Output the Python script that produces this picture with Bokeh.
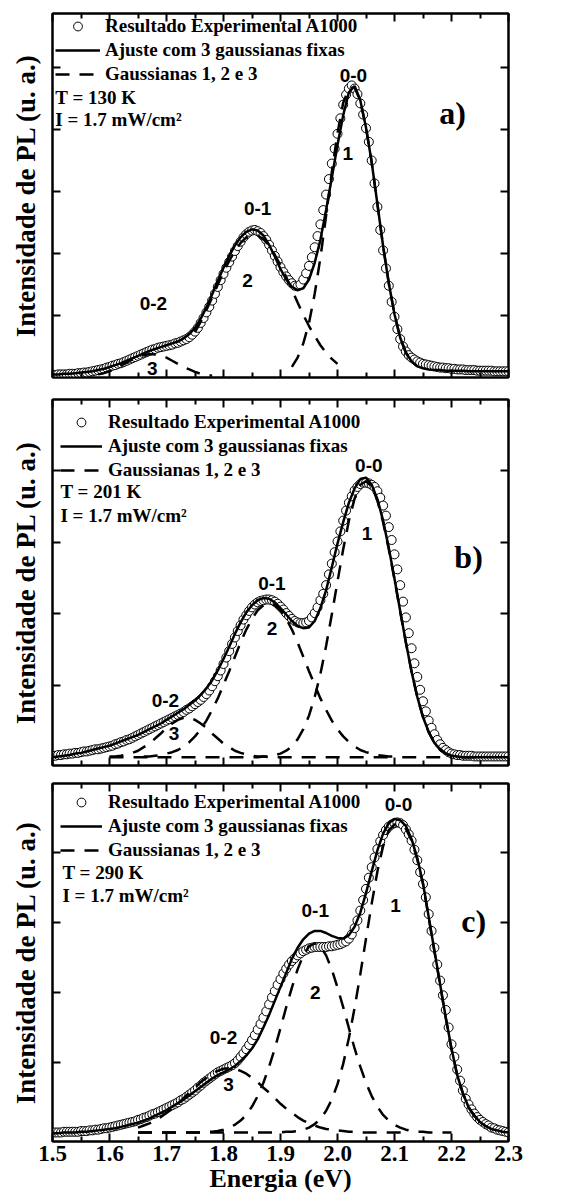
from bokeh.plotting import figure
from bokeh.models import Range1d, LinearAxis, FixedTicker, PrintfTickFormatter, Label, Legend, LegendItem
from bokeh.layouts import column
from bokeh.embed import file_html
from bokeh.resources import INLINE
from bokeh.core.properties import value

SERIF = "Liberation Serif"
SANS = "Liberation Sans"

# ---------------- data ----------------
energy = [1.500, 1.505, 1.510, 1.515, 1.520, 1.525, 1.530, 1.535, 1.540, 1.545,
          1.550, 1.555, 1.560, 1.565, 1.570, 1.575, 1.580, 1.585, 1.590, 1.595,
          1.600, 1.605, 1.610, 1.615, 1.620, 1.625, 1.630, 1.635, 1.640, 1.645,
          1.650, 1.655, 1.660, 1.665, 1.670, 1.675, 1.680, 1.685, 1.690, 1.695,
          1.700, 1.705, 1.710, 1.715, 1.720, 1.725, 1.730, 1.735, 1.740, 1.745,
          1.750, 1.755, 1.760, 1.765, 1.770, 1.775, 1.780, 1.785, 1.790, 1.795,
          1.800, 1.805, 1.810, 1.815, 1.820, 1.825, 1.830, 1.835, 1.840, 1.845,
          1.850, 1.855, 1.860, 1.865, 1.870, 1.875, 1.880, 1.885, 1.890, 1.895,
          1.900, 1.905, 1.910, 1.915, 1.920, 1.925, 1.930, 1.935, 1.940, 1.945,
          1.950, 1.955, 1.960, 1.965, 1.970, 1.975, 1.980, 1.985, 1.990, 1.995,
          2.000, 2.005, 2.010, 2.015, 2.020, 2.025, 2.030, 2.035, 2.040, 2.045,
          2.050, 2.055, 2.060, 2.065, 2.070, 2.075, 2.080, 2.085, 2.090, 2.095,
          2.100, 2.105, 2.110, 2.115, 2.120, 2.125, 2.130, 2.135, 2.140, 2.145,
          2.150, 2.155, 2.160, 2.165, 2.170, 2.175, 2.180, 2.185, 2.190, 2.195,
          2.200, 2.205, 2.210, 2.215, 2.220, 2.225, 2.230, 2.235, 2.240, 2.245,
          2.250, 2.255, 2.260, 2.265, 2.270, 2.275, 2.280, 2.285, 2.290, 2.295,
          2.300]

energy_fit = [1.50, 1.51, 1.52, 1.53, 1.54, 1.55, 1.56, 1.57, 1.58, 1.59,
              1.60, 1.61, 1.62, 1.63, 1.64, 1.65, 1.66, 1.67, 1.68, 1.69,
              1.70, 1.71, 1.72, 1.73, 1.74, 1.75, 1.76, 1.77, 1.78, 1.79,
              1.80, 1.81, 1.82, 1.83, 1.84, 1.85, 1.86, 1.87, 1.88, 1.89,
              1.90, 1.91, 1.92, 1.93, 1.94, 1.95, 1.96, 1.97, 1.98, 1.99,
              2.00, 2.01, 2.02, 2.03, 2.04, 2.05, 2.06, 2.07, 2.08, 2.09,
              2.10, 2.11, 2.12, 2.13, 2.14, 2.15, 2.16, 2.17, 2.18, 2.19,
              2.20, 2.21, 2.22, 2.23, 2.24, 2.25, 2.26, 2.27, 2.28, 2.29,
              2.30]

# panel a) T = 130 K
a_exp = [0.04, 0.04, 0.05, 0.05, 0.05, 0.05, 0.06, 0.06, 0.06, 0.07,
         0.07, 0.08, 0.08, 0.09, 0.10, 0.11, 0.12, 0.13, 0.14, 0.16,
         0.17, 0.19, 0.20, 0.22, 0.23, 0.25, 0.27, 0.29, 0.31, 0.33,
         0.35, 0.37, 0.39, 0.41, 0.43, 0.45, 0.46, 0.48, 0.49, 0.50,
         0.51, 0.52, 0.53, 0.55, 0.56, 0.58, 0.60, 0.62, 0.65, 0.69,
         0.74, 0.80, 0.88, 0.96, 1.05, 1.14, 1.24, 1.35, 1.46, 1.57,
         1.67, 1.77, 1.86, 1.95, 2.04, 2.12, 2.19, 2.26, 2.31, 2.35,
         2.37, 2.38, 2.36, 2.33, 2.28, 2.22, 2.14, 2.05, 1.96, 1.87,
         1.78, 1.70, 1.63, 1.57, 1.52, 1.48, 1.47, 1.50, 1.58, 1.68,
         1.80, 1.94, 2.10, 2.28, 2.47, 2.70, 2.95, 3.20, 3.45, 3.69,
         3.93, 4.18, 4.40, 4.56, 4.66, 4.71, 4.66, 4.57, 4.42, 4.24,
         4.02, 3.80, 3.50, 3.13, 2.75, 2.38, 2.05, 1.76, 1.48, 1.22,
         0.98, 0.78, 0.62, 0.50, 0.42, 0.36, 0.32, 0.29, 0.26, 0.24,
         0.22, 0.21, 0.20, 0.19, 0.18, 0.17, 0.16, 0.16, 0.15, 0.15,
         0.14, 0.14, 0.13, 0.13, 0.13, 0.12, 0.12, 0.12, 0.12, 0.11,
         0.11, 0.11, 0.11, 0.11, 0.11, 0.10, 0.10, 0.10, 0.10, 0.10,
         0.10]
a_fit = [0.05, 0.05, 0.06, 0.06, 0.07, 0.08, 0.09, 0.10, 0.12, 0.14,
         0.17, 0.20, 0.23, 0.27, 0.31, 0.35, 0.39, 0.43, 0.46, 0.49,
         0.52, 0.55, 0.58, 0.63, 0.70, 0.80, 0.95, 1.13, 1.34, 1.56,
         1.77, 1.96, 2.13, 2.26, 2.35, 2.39, 2.37, 2.29, 2.14, 1.95,
         1.75, 1.58, 1.46, 1.41, 1.44, 1.58, 1.85, 2.22, 2.70, 3.22,
         3.75, 4.23, 4.60, 4.70, 4.47, 4.03, 3.47, 2.80, 2.12, 1.52,
         1.02, 0.64, 0.40, 0.26, 0.18, 0.15, 0.13, 0.12, 0.12, 0.11,
         0.11, 0.11, 0.11, 0.10, 0.10, 0.10, 0.10, 0.10, 0.10, 0.10,
         0.10]
a_g3 = [0.05, 0.07, 0.10, 0.14, 0.19, 0.24, 0.29, 0.33, 0.36, 0.38,
        0.37, 0.35, 0.32, 0.27, 0.22, 0.17, 0.13, 0.09, 0.06, 0.04, 0.03]
a_g2 = [0.73, 0.90, 1.09, 1.29, 1.50, 1.70, 1.88, 2.04, 2.17, 2.26,
        2.30, 2.29, 2.23, 2.13, 1.98, 1.81, 1.62, 1.42, 1.21, 1.01,
        0.83, 0.67, 0.52, 0.40, 0.30, 0.22]
a_g1 = [0.17, 0.32, 0.55, 0.88, 1.35, 1.93, 2.61, 3.31, 3.94, 4.43,
        4.66, 4.68, 4.46, 4.03, 3.47, 2.80, 2.12, 1.52, 1.02, 0.64,
        0.40, 0.26, 0.18]

# panel b) T = 201 K
b_exp = [0.02, 0.02, 0.03, 0.03, 0.04, 0.04, 0.05, 0.05, 0.06, 0.06,
         0.07, 0.08, 0.08, 0.09, 0.10, 0.11, 0.11, 0.12, 0.13, 0.14,
         0.15, 0.16, 0.18, 0.19, 0.21, 0.22, 0.24, 0.25, 0.27, 0.29,
         0.31, 0.33, 0.35, 0.37, 0.39, 0.41, 0.43, 0.45, 0.47, 0.49,
         0.51, 0.53, 0.55, 0.57, 0.59, 0.61, 0.63, 0.66, 0.68, 0.71,
         0.74, 0.77, 0.80, 0.84, 0.88, 0.93, 0.99, 1.06, 1.13, 1.21,
         1.30, 1.39, 1.48, 1.58, 1.67, 1.76, 1.84, 1.92, 1.98, 2.04,
         2.09, 2.13, 2.16, 2.18, 2.19, 2.20, 2.20, 2.19, 2.17, 2.14,
         2.10, 2.06, 2.01, 1.97, 1.93, 1.90, 1.88, 1.87, 1.87, 1.88,
         1.90, 1.95, 2.01, 2.09, 2.19, 2.28, 2.40, 2.55, 2.70, 2.86,
         3.01, 3.15, 3.30, 3.44, 3.55, 3.64, 3.72, 3.77, 3.81, 3.83,
         3.83, 3.82, 3.80, 3.77, 3.71, 3.62, 3.51, 3.37, 3.21, 3.03,
         2.83, 2.62, 2.40, 2.17, 1.95, 1.73, 1.52, 1.31, 1.12, 0.94,
         0.78, 0.64, 0.51, 0.41, 0.32, 0.24, 0.18, 0.13, 0.10, 0.07,
         0.05, 0.04, 0.03, 0.03, 0.02, 0.02, 0.02, 0.02, 0.01, 0.01,
         0.01, 0.01, 0.01, 0.01, 0.01, 0.01, 0.01, 0.01, 0.01, 0.01,
         0.01]
b_fit = [0.00, 0.01, 0.02, 0.03, 0.05, 0.06, 0.08, 0.10, 0.12, 0.14,
         0.16, 0.19, 0.22, 0.25, 0.28, 0.31, 0.35, 0.39, 0.43, 0.47,
         0.52, 0.57, 0.62, 0.67, 0.73, 0.79, 0.87, 0.96, 1.07, 1.21,
         1.37, 1.54, 1.72, 1.88, 2.02, 2.12, 2.19, 2.22, 2.21, 2.16,
         2.08, 1.99, 1.90, 1.83, 1.80, 1.81, 1.90, 2.08, 2.33, 2.65,
         2.98, 3.28, 3.55, 3.75, 3.88, 3.90, 3.80, 3.60, 3.30, 2.92,
         2.49, 2.04, 1.60, 1.19, 0.84, 0.56, 0.35, 0.20, 0.11, 0.05,
         0.02, 0.01, 0.00, 0.00, 0.00, 0.00, 0.00, 0.00, 0.00, 0.00,
         0.00]
b_g3 = [0.01, 0.01, 0.02, 0.04, 0.06, 0.09, 0.14, 0.19, 0.26, 0.33,
        0.41, 0.47, 0.52, 0.55, 0.55, 0.52, 0.47, 0.41, 0.33, 0.26,
        0.19, 0.14, 0.09, 0.06, 0.04, 0.02, 0.01, 0.01, 0.00, 0.00,
        0.00, 0.00, 0.00, 0.00, 0.00, 0.00, 0.00, 0.00, 0.00, 0.00,
        0.00, 0.00, 0.00, 0.00, 0.00, 0.00, 0.00, 0.00, 0.00, 0.00,
        0.00]
b_g2 = [0.01, 0.01, 0.02, 0.03, 0.05, 0.07, 0.10, 0.15, 0.21, 0.29,
        0.39, 0.51, 0.66, 0.82, 1.01, 1.20, 1.40, 1.60, 1.78, 1.93,
        2.05, 2.12, 2.15, 2.12, 2.05, 1.93, 1.78, 1.60, 1.40, 1.20,
        1.01, 0.82, 0.66, 0.51, 0.39, 0.29, 0.21, 0.15, 0.10, 0.07,
        0.05, 0.03, 0.02, 0.01, 0.01, 0.00, 0.00, 0.00, 0.00, 0.00,
        0.00, 0.00, 0.00, 0.00, 0.00]
b_g1 = [0.00, 0.00, 0.00, 0.00, 0.00, 0.00, 0.00, 0.00, 0.00, 0.00,
        0.00, 0.00, 0.00, 0.00, 0.00, 0.00, 0.00, 0.00, 0.00, 0.00,
        0.00, 0.00, 0.00, 0.00, 0.00, 0.00,
        0.00, 0.01, 0.01, 0.03, 0.05, 0.09, 0.15, 0.25, 0.39, 0.58,
        0.84, 1.16, 1.55, 1.99, 2.45, 2.90, 3.30, 3.61, 3.80, 3.85,
        3.78, 3.58, 3.28, 2.90, 2.48, 2.03, 1.60, 1.19, 0.84, 0.56,
        0.35, 0.20, 0.11, 0.05, 0.02, 0.01, 0.00, 0.00, 0.00, 0.00]

# panel c) T = 290 K
c_exp = [0.00, 0.00, 0.00, 0.00, 0.01, 0.01, 0.01, 0.01, 0.01, 0.01,
         0.02, 0.02, 0.02, 0.03, 0.03, 0.04, 0.04, 0.05, 0.06, 0.06,
         0.07, 0.08, 0.09, 0.10, 0.11, 0.12, 0.13, 0.14, 0.15, 0.16,
         0.18, 0.19, 0.21, 0.22, 0.24, 0.26, 0.27, 0.29, 0.31, 0.33,
         0.35, 0.37, 0.39, 0.41, 0.43, 0.46, 0.48, 0.51, 0.54, 0.57,
         0.60, 0.64, 0.67, 0.71, 0.74, 0.77, 0.80, 0.83, 0.86, 0.88,
         0.90, 0.92, 0.94, 0.96, 0.99, 1.03, 1.08, 1.13, 1.19, 1.25,
         1.32, 1.39, 1.47, 1.55, 1.64, 1.73, 1.83, 1.93, 2.02, 2.11,
         2.19, 2.27, 2.34, 2.40, 2.45, 2.49, 2.53, 2.56, 2.59, 2.61,
         2.63, 2.64, 2.65, 2.65, 2.65, 2.65, 2.65, 2.66, 2.66, 2.67,
         2.68, 2.69, 2.71, 2.73, 2.77, 2.83, 2.92, 3.03, 3.17, 3.32,
         3.48, 3.64, 3.79, 3.93, 4.05, 4.16, 4.25, 4.32, 4.37, 4.40,
         4.42, 4.43, 4.42, 4.39, 4.33, 4.26, 4.17, 4.04, 3.89, 3.72,
         3.55, 3.36, 3.12, 2.88, 2.64, 2.40, 2.17, 1.96, 1.75, 1.50,
         1.26, 1.08, 0.90, 0.74, 0.60, 0.48, 0.40, 0.33, 0.27, 0.22,
         0.18, 0.15, 0.12, 0.10, 0.07, 0.06, 0.04, 0.03, 0.02, 0.01,
         0.00]
c_fit = [-0.01, -0.01, 0.00, 0.00, 0.00, 0.01, 0.01, 0.02, 0.03, 0.04,
         0.05, 0.06, 0.08, 0.10, 0.12, 0.14, 0.17, 0.20, 0.24, 0.28,
         0.32, 0.37, 0.42, 0.47, 0.53, 0.59, 0.65, 0.71, 0.77, 0.82,
         0.86, 0.90, 0.95, 1.02, 1.10, 1.20, 1.33, 1.50, 1.68, 1.88,
         2.08, 2.28, 2.48, 2.64, 2.76, 2.84, 2.88, 2.88, 2.85, 2.81,
         2.78, 2.77, 2.82, 2.94, 3.14, 3.42, 3.73, 4.03, 4.27, 4.42,
         4.48, 4.46, 4.38, 4.19, 3.92, 3.56, 3.08, 2.60, 2.12, 1.64,
         1.20, 0.82, 0.56, 0.36, 0.24, 0.15, 0.09, 0.05, 0.03, 0.01,
         0.00]
c_g3 = [0.07, 0.10, 0.13, 0.17, 0.22, 0.28, 0.34, 0.41, 0.49, 0.57,
        0.64, 0.72, 0.78, 0.84, 0.88, 0.91, 0.92, 0.91, 0.88, 0.84,
        0.78, 0.72, 0.64, 0.57, 0.49, 0.41, 0.34, 0.28, 0.22, 0.17,
        0.13, 0.10, 0.07, 0.05, 0.04, 0.03, 0.02, 0.01, 0.01, 0.00,
        0.00, 0.00, 0.00, 0.00, 0.00, 0.00, 0.00, 0.00]
c_g2 = [0.00, 0.00, 0.00, 0.00, 0.00, 0.00, 0.00, 0.00, 0.00, 0.00,
        0.00, 0.00,
        0.01, 0.01, 0.02, 0.04, 0.07, 0.11, 0.17, 0.25, 0.37, 0.52,
        0.71, 0.94, 1.20, 1.49, 1.79, 2.07, 2.33, 2.53, 2.66, 2.70,
        2.66, 2.53, 2.33, 2.07, 1.79, 1.49, 1.20, 0.94, 0.71, 0.52,
        0.37, 0.25, 0.17, 0.11, 0.07, 0.04, 0.02, 0.01, 0.01, 0.00,
        0.00, 0.00, 0.00, 0.00]
c_g1 = [0.00, 0.00, 0.00, 0.00, 0.00, 0.00, 0.00, 0.00, 0.00, 0.00,
        0.00, 0.00, 0.00, 0.00, 0.00, 0.00, 0.00, 0.00, 0.00, 0.00,
        0.00, 0.00, 0.00, 0.00, 0.00, 0.00,
        0.01, 0.01, 0.02, 0.04, 0.07, 0.12, 0.19, 0.31, 0.47, 0.69,
        0.98, 1.35, 1.78, 2.26, 2.77, 3.27, 3.73, 4.09, 4.32, 4.40,
        4.40, 4.34, 4.17, 3.90, 3.55, 3.07, 2.59, 2.11, 1.63, 1.19,
        0.82, 0.56, 0.36, 0.24, 0.15, 0.09]

# energy windows (slices of energy_fit) over which each gaussian is drawn
a_g_x = [energy_fit[8:29], energy_fit[25:51], energy_fit[42:65]]
b_g_x = [energy_fit[10:61], energy_fit[16:71], energy_fit[10:76]]
c_g_x = [energy_fit[15:63], energy_fit[15:71], energy_fit[15:77]]

x_major = [1.5, 1.6, 1.7, 1.8, 1.9, 2.0, 2.1, 2.2, 2.3]
x_minor = [1.55, 1.65, 1.75, 1.85, 1.95, 2.05, 2.15, 2.25]

legend_labels = ["Resultado Experimental A1000", "Ajuste com 3 gaussianas fixas", "Gaussianas 1, 2 e 3"]
ylabel = "Intensidade de PL (u. a.)"
xlabel = "Energia (eV)"


def style_axis(ax, ticker, show_labels=False):
    ax.ticker = ticker
    ax.axis_line_color = "black"
    ax.axis_line_width = 2
    ax.major_tick_in = 8
    ax.major_tick_out = 0
    ax.minor_tick_in = 5
    ax.minor_tick_out = 0
    ax.major_tick_line_width = 2
    ax.minor_tick_line_width = 2
    ax.major_tick_line_color = "black"
    ax.minor_tick_line_color = "black"
    if not show_labels:
        # tick labels are not drawn at all on these axes
        ax.major_label_text_color = None
        ax.major_label_standoff = 0


def make_panel(height, top, bottom, ylo, yhi, yticks, exp_y, fit_y, gx, gy,
               leg_xy, glyph_w, standoff, notes, tag, t_text, tx, ty, iy, show_x):
    p = figure(width=568, height=height, x_range=Range1d(1.5, 2.3), y_range=Range1d(ylo, yhi),
               output_backend="svg", toolbar_location=None,
               min_border_left=52, min_border_right=60, min_border_top=top, min_border_bottom=bottom)
    p.xgrid.visible = False
    p.ygrid.visible = False
    p.outline_line_color = "black"
    p.outline_line_width = 2
    p.background_fill_color = "white"
    p.border_fill_color = "white"

    xt = FixedTicker(ticks=x_major, minor_ticks=x_minor)
    yt = FixedTicker(ticks=yticks, minor_ticks=[])

    bx = p.xaxis[0]
    style_axis(bx, xt, show_labels=show_x)
    if show_x:
        bx.formatter = PrintfTickFormatter(format="%.1f")
        bx.major_label_text_font = SERIF
        bx.major_label_text_font_style = "bold"
        bx.major_label_text_font_size = "23px"
        bx.major_label_text_color = "black"
        bx.major_label_standoff = 4
        bx.axis_label = xlabel
        bx.axis_label_text_font = SERIF
        bx.axis_label_text_font_style = "bold"
        bx.axis_label_text_font_size = "26px"
        bx.axis_label_text_color = "black"
        bx.axis_label_standoff = 0

    ly = p.yaxis[0]
    style_axis(ly, yt)
    ly.axis_label = ylabel
    ly.axis_label_text_font = SERIF
    ly.axis_label_text_font_style = "bold"
    ly.axis_label_text_font_size = "27px"
    ly.axis_label_text_color = "black"
    ly.axis_label_standoff = 12

    top_ax = LinearAxis()
    style_axis(top_ax, xt)
    p.add_layout(top_ax, "above")
    right_ax = LinearAxis()
    style_axis(right_ax, yt)
    p.add_layout(right_ax, "right")

    r_exp = p.scatter(energy, exp_y, marker="circle", size=9, fill_color="white",
                      line_color="black", line_width=1)
    r_fit = p.line(energy_fit, fit_y, line_color="black", line_width=2.5)
    r_g = None
    for xs, ys in zip(gx, gy):
        r_g = p.line(xs, ys, line_color="black", line_width=2.5, line_dash="14 10")

    legend = Legend(items=[LegendItem(label=value(legend_labels[0]), renderers=[r_exp]),
                           LegendItem(label=value(legend_labels[1]), renderers=[r_fit]),
                           LegendItem(label=value(legend_labels[2]), renderers=[r_g])],
                    location=leg_xy, padding=0, margin=0, spacing=2,
                    label_height=22, glyph_height=22, glyph_width=glyph_w, label_standoff=standoff,
                    border_line_color=None, background_fill_alpha=0,
                    label_text_font=SERIF, label_text_font_style="bold",
                    label_text_font_size="19px", label_text_color="black")
    p.add_layout(legend)

    for txt, x, y in notes:
        p.add_layout(Label(x=x, y=y, text=txt, text_font=SANS, text_font_style="bold",
                           text_font_size="19px", text_align="center", text_baseline="middle",
                           text_color="black"))
    p.add_layout(Label(x=tag[1], y=tag[2], text=tag[0], text_font=SERIF, text_font_style="bold",
                       text_font_size="32px", text_align="center", text_baseline="middle",
                       text_color="black"))
    p.add_layout(Label(x=tx, y=ty, text=t_text, text_font=SERIF, text_font_style="bold",
                       text_font_size="19px", text_align="left", text_baseline="middle",
                       text_color="black"))
    p.add_layout(Label(x=tx, y=iy, text="I = 1.7 mW/cm\u00b2", text_font=SERIF, text_font_style="bold",
                       text_font_size="19px", text_align="left", text_baseline="middle",
                       text_color="black"))
    return p


pa = make_panel(388, 13, 11, 0.0, 5.87, [1, 2, 3, 4, 5], a_exp, a_fit, a_g_x, [a_g3, a_g2, a_g1],
                (3, 292), 45, 5,
                [("0-0", 2.028, 4.87), ("1", 2.018, 3.61), ("0-1", 1.860, 2.73), ("2", 1.842, 1.56),
                 ("0-2", 1.677, 1.19), ("3", 1.675, 0.15)],
                ("a)", 2.202, 4.26), "T = 130 K", 1.505, 4.52, 4.16, False)
pb = make_panel(386, 11, 9, -0.116, 4.99, [1, 2, 3, 4], b_exp, b_fit, b_g_x, [b_g3, b_g2, b_g1],
                (8, 284), 42, 6,
                [("0-0", 2.055, 4.07), ("1", 2.052, 3.12), ("0-1", 1.885, 2.42), ("2", 1.885, 1.79),
                 ("0-2", 1.698, 0.79), ("3", 1.713, 0.33)],
                ("b)", 2.230, 2.79), "T = 201 K", 1.514, 3.70, 3.37, False)
pc = make_panel(426, 9, 59, -0.129, 4.986, [1, 2, 3, 4], c_exp, c_fit, c_g_x, [c_g3, c_g2, c_g1],
                (8, 280), 42, 6,
                [("0-0", 2.107, 4.69), ("1", 2.102, 3.24), ("0-1", 1.961, 3.17), ("2", 1.961, 2.00),
                 ("0-2", 1.800, 1.36), ("3", 1.809, 0.69)],
                ("c)", 2.239, 3.02), "T = 290 K", 1.5175, 3.71, 3.38, True)

layout = column(pa, pb, pc, spacing=0)
html = file_html(layout, INLINE, title="Espectros de PL")
html = html.replace("<head>", "<head><style>html,body{margin:0;padding:0;}</style>", 1)
open("out.html", "w").write(html)
